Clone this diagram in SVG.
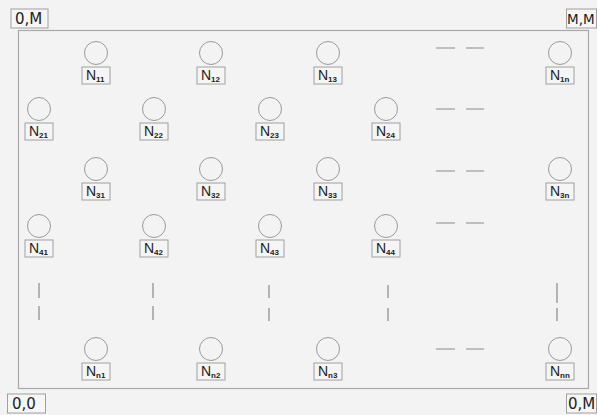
<svg xmlns="http://www.w3.org/2000/svg" width="597" height="415" viewBox="0 0 597 415">
<style>
.bg{fill:#f3f3f3}
.frame{fill:none;stroke:#a8a8a8;stroke-width:1.2}
.c{fill:none;stroke:#9a9a9a;stroke-width:1}
.lb{fill:#f5f5f5;stroke:#a0a0a0;stroke-width:1}
.corner{fill:#f6f6f6;stroke:#a0a0a0;stroke-width:1}
.t{font-family:"Liberation Sans",Arial,sans-serif;font-size:14px;fill:#222}
.s{font-family:"Liberation Sans",Arial,sans-serif;font-size:8px;font-weight:bold;fill:#222}
.ct{font-family:"DejaVu Sans","Liberation Sans",sans-serif;font-size:15px;fill:#222}
.d{stroke:#8a8a8a;stroke-width:1.2}
</style>
<defs>
<g id="node">
<circle class="c" cx="0" cy="0" r="11.5"/>
<rect class="lb" x="-14" y="14" width="28" height="17"/>
</g>
</defs>
<rect class="bg" x="0" y="0" width="597" height="415"/>
<rect class="frame" x="18.5" y="30.5" width="570" height="358"/>
<g id="corners">
<g id="c0M"><rect class="corner" x="11" y="9" width="37" height="19"/><text class="ct" x="15" y="24">0,M</text></g>
<g id="cMM"><rect class="corner" x="566.5" y="9" width="30" height="19"/><text class="ct" x="567" y="24" style="font-size:13.5px">M,M</text></g>
<g id="c00"><rect class="corner" x="7.5" y="394" width="38" height="19"/><text class="ct" x="12" y="409">0,0</text></g>
<g id="cM0"><rect class="corner" x="566.5" y="394" width="30" height="19"/><text class="ct" x="568" y="409">0,M</text></g>
</g>
<g id="N11" transform="translate(96,53)"><use href="#node"/><text class="t" x="-10" y="27">N</text><text class="s" x="0" y="29">11</text></g>
<g id="N12" transform="translate(211,53)"><use href="#node"/><text class="t" x="-10" y="27">N</text><text class="s" x="0" y="29">12</text></g>
<g id="N13" transform="translate(328,53)"><use href="#node"/><text class="t" x="-10" y="27">N</text><text class="s" x="0" y="29">13</text></g>
<g id="N1n" transform="translate(560,53)"><use href="#node"/><text class="t" x="-10" y="27">N</text><text class="s" x="0" y="29">1n</text></g>
<g id="N21" transform="translate(39,109)"><use href="#node"/><text class="t" x="-10" y="27">N</text><text class="s" x="0" y="29">21</text></g>
<g id="N22" transform="translate(154,109)"><use href="#node"/><text class="t" x="-10" y="27">N</text><text class="s" x="0" y="29">22</text></g>
<g id="N23" transform="translate(270,109)"><use href="#node"/><text class="t" x="-10" y="27">N</text><text class="s" x="0" y="29">23</text></g>
<g id="N24" transform="translate(386,109)"><use href="#node"/><text class="t" x="-10" y="27">N</text><text class="s" x="0" y="29">24</text></g>
<g id="N31" transform="translate(96,169)"><use href="#node"/><text class="t" x="-10" y="27">N</text><text class="s" x="0" y="29">31</text></g>
<g id="N32" transform="translate(211,169)"><use href="#node"/><text class="t" x="-10" y="27">N</text><text class="s" x="0" y="29">32</text></g>
<g id="N33" transform="translate(328,169)"><use href="#node"/><text class="t" x="-10" y="27">N</text><text class="s" x="0" y="29">33</text></g>
<g id="N3n" transform="translate(560,169)"><use href="#node"/><text class="t" x="-10" y="27">N</text><text class="s" x="0" y="29">3n</text></g>
<g id="N41" transform="translate(39,226)"><use href="#node"/><text class="t" x="-10" y="27">N</text><text class="s" x="0" y="29">41</text></g>
<g id="N42" transform="translate(154,226)"><use href="#node"/><text class="t" x="-10" y="27">N</text><text class="s" x="0" y="29">42</text></g>
<g id="N43" transform="translate(270,226)"><use href="#node"/><text class="t" x="-10" y="27">N</text><text class="s" x="0" y="29">43</text></g>
<g id="N44" transform="translate(386,226)"><use href="#node"/><text class="t" x="-10" y="27">N</text><text class="s" x="0" y="29">44</text></g>
<g id="Nn1" transform="translate(96,349)"><use href="#node"/><text class="t" x="-10" y="27">N</text><text class="s" x="0" y="29">n1</text></g>
<g id="Nn2" transform="translate(211,349)"><use href="#node"/><text class="t" x="-10" y="27">N</text><text class="s" x="0" y="29">n2</text></g>
<g id="Nn3" transform="translate(328,349)"><use href="#node"/><text class="t" x="-10" y="27">N</text><text class="s" x="0" y="29">n3</text></g>
<g id="Nnn" transform="translate(560,349)"><use href="#node"/><text class="t" x="-10" y="27">N</text><text class="s" x="0" y="29">nn</text></g>
<g id="connectors">
<path class="d" d="M436 48H455M466 48H484M436 109H455M466 109H484M436 171H455M466 171H484M436 223H455M466 223H484M436 349H455M466 349H484"/>
<path class="d" d="M39 283V298M39 306V320M153 283V298M153 306V320M269 285V298M269 308V321M388 285V298M388 308V321M557 283V303M557 308V321"/>
</g>
</svg>
